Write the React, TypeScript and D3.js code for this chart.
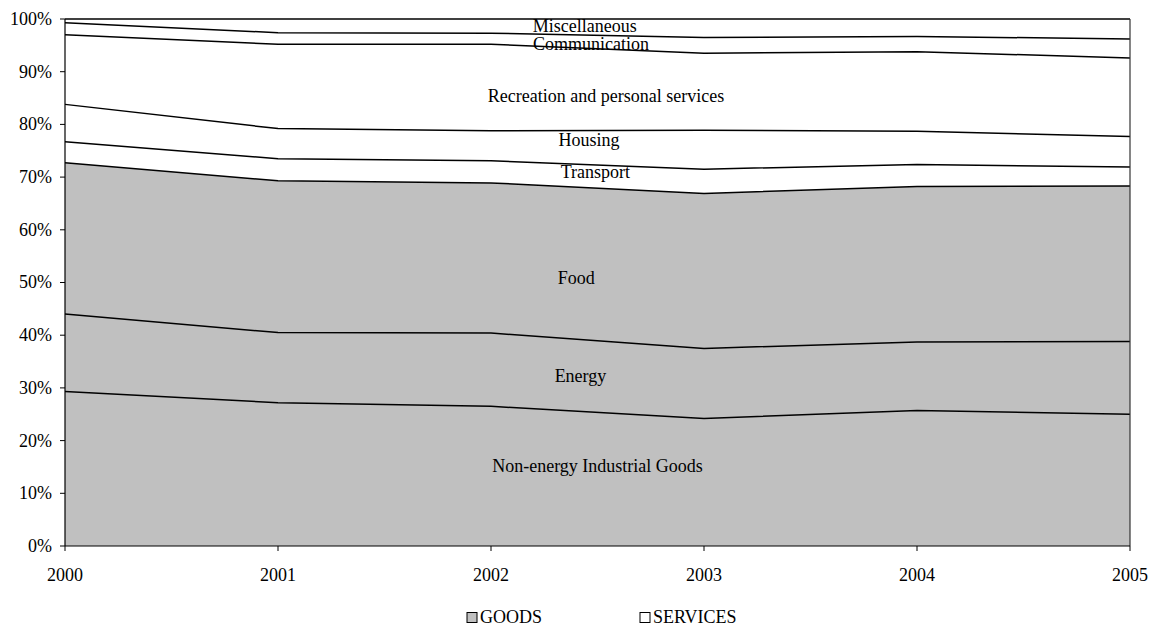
import React from "react";
import * as d3 from "d3";

const years = [2000, 2001, 2002, 2003, 2004, 2005];
const seriesNames = [
  "Non-energy Industrial Goods",
  "Energy",
  "Food",
  "Transport",
  "Housing",
  "Recreation and personal services",
  "Communication",
  "Miscellaneous",
];
const seriesGroup = ["GOODS", "GOODS", "GOODS", "SERVICES", "SERVICES", "SERVICES", "SERVICES", "SERVICES"];
const nonEnergy = [29.3, 27.2, 26.5, 24.2, 25.7, 25.0];
const energy = [14.7, 13.3, 13.9, 13.3, 13.0, 13.8];
const food = [28.7, 28.8, 28.5, 29.4, 29.5, 29.5];
const transport = [4.0, 4.2, 4.2, 4.6, 4.2, 3.6];
const housing = [7.1, 5.7, 5.7, 7.4, 6.3, 5.8];
const recreation = [13.2, 16.0, 16.4, 14.6, 15.1, 14.9];
const communication = [2.3, 2.2, 2.1, 3.0, 2.9, 3.6];
const miscellaneous = [0.7, 2.6, 2.7, 3.5, 3.3, 3.8];
const seriesValues = [nonEnergy, energy, food, transport, housing, recreation, communication, miscellaneous];

// label anchor positions in data space (year, percent)
const labelYear = [2002.5, 2002.42, 2002.4, 2002.49, 2002.46, 2002.54, 2002.47, 2002.44];
const labelPct = [15.2, 32.3, 50.9, 71.0, 77.0, 85.4, 95.3, 98.6];

const yTicks = [0, 10, 20, 30, 40, 50, 60, 70, 80, 90, 100];
const legendItems = ["GOODS", "SERVICES"];
const groupFill: Record<string, string> = { GOODS: "#C0C0C0", SERVICES: "#FFFFFF" };

export default function App() {
  const W = 1151, H = 627;
  const x = d3.scaleLinear().domain([2000, 2005]).range([65, 1130]);
  const y = d3.scaleLinear().domain([0, 100]).range([546, 19]);

  const table = years.map((yr, i) => {
    const row: any = { year: yr };
    seriesNames.forEach((n, k) => (row[n] = seriesValues[k][i]));
    return row;
  });
  const stack = d3.stack<any>().keys(seriesNames);
  const layers = stack(table);

  const area = d3
    .area<any>()
    .x((d) => x(d.data.year))
    .y0((d) => y(d[0]))
    .y1((d) => y(d[1]));
  const line = d3
    .line<any>()
    .x((d) => x(d.data.year))
    .y((d) => y(d[1]));

  const font = "'Liberation Serif', 'Times New Roman', Times, serif";
  const fs = 18;

  return (
    <svg width={W} height={H} style={{ position: "absolute", left: 0, top: 0, fontFamily: font }}>
      <rect x={0} y={0} width={W} height={H} fill="#fff" />
      {layers.map((layer, k) => (
        <path key={"a" + k} d={area(layer as any) || ""} fill={groupFill[seriesGroup[k]]} stroke="none" />
      ))}
      {layers.map((layer, k) => (
        <path key={"l" + k} d={line(layer as any) || ""} fill="none" stroke="#000" strokeWidth={1.5} />
      ))}
      <line x1={x(2005)} x2={x(2005)} y1={y(0)} y2={y(100)} stroke="#333" strokeWidth={1.2} />
      <line x1={x(2000)} x2={x(2000)} y1={y(0)} y2={y(100)} stroke="#000" strokeWidth={1.2} />
      <line x1={x(2000)} x2={x(2005)} y1={y(0)} y2={y(0)} stroke="#000" strokeWidth={1.2} />
      {yTicks.map((t) => (
        <g key={"yt" + t}>
          <line x1={x(2000) - 5} x2={x(2000)} y1={y(t)} y2={y(t)} stroke="#000" strokeWidth={1} />
          <text x={52} y={y(t)} dy="0.33em" textAnchor="end" fontSize={fs} fill="#000">
            {t + "%"}
          </text>
        </g>
      ))}
      {years.map((yr) => (
        <g key={"xt" + yr}>
          <line x1={x(yr)} x2={x(yr)} y1={y(0)} y2={y(0) + 5} stroke="#000" strokeWidth={1} />
          <text x={x(yr)} y={581} textAnchor="middle" fontSize={fs} fill="#000">
            {yr}
          </text>
        </g>
      ))}
      {seriesNames.map((n, k) => (
        <text
          key={"lab" + k}
          x={x(labelYear[k])}
          y={y(labelPct[k])}
          dy="0.33em"
          textAnchor="middle"
          fontSize={fs}
          fill="#000"
        >
          {n}
        </text>
      ))}
      {legendItems.map((it, i) => {
        const lx = i === 0 ? 467 : 640;
        return (
          <g key={"lg" + it}>
            <rect x={lx} y={612.5} width={10} height={10} fill={groupFill[it]} stroke="#000" strokeWidth={1} />
            <text x={lx + 13} y={623} fontSize={fs} fill="#000">
              {it}
            </text>
          </g>
        );
      })}
    </svg>
  );
}
